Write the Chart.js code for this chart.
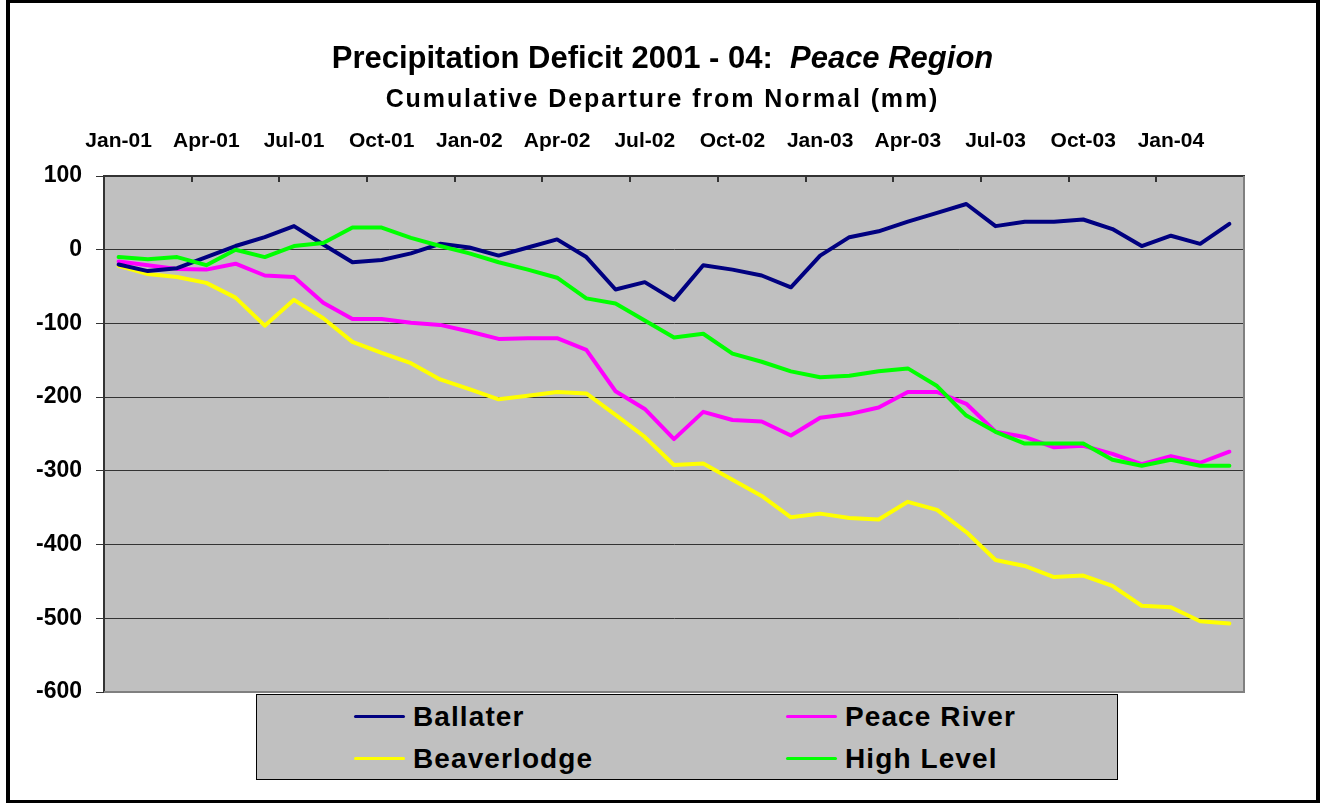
<!DOCTYPE html>
<html>
<head>
<meta charset="utf-8">
<title>Precipitation Deficit 2001 - 04: Peace Region</title>
<script src="https://cdn.jsdelivr.net/npm/chart.js@4.4.1/dist/chart.umd.min.js"></script>
<style>
  body { margin: 0; background: #fff; font-family: "Liberation Sans", Arial, sans-serif; }
  #wrap { position: relative; width: 1325px; height: 803px; overflow: hidden; }
  #frame { position: absolute; left: 6px; top: -1px; width: 1314px; height: 805px; border: 4px solid #000; box-sizing: border-box; pointer-events: none; }
  canvas { position: absolute; left: 0; top: 0; }
  .title { position: absolute; left: 0; width: 1325px; text-align: center; font-weight: bold; line-height: 1; color: #000; white-space: nowrap; }
  #t1 { top: 42px; font-size: 31px; }
  #t2 { top: 86px; font-size: 25px; letter-spacing: 1.9px; }
  #legend { position: absolute; left: 256px; top: 694px; width: 862px; height: 86px; box-sizing: border-box; border: 1px solid #000; background: #c0c0c0; }
  #legend .item { position: absolute; }
  #legend .swatch { position: absolute; left: 0; top: 20px; width: 51px; height: 3px; border-radius: 2px; }
  #legend .txt { position: absolute; left: 59px; top: 8px; font-size: 28px; font-weight: bold; line-height: 1; letter-spacing: 1.1px; white-space: nowrap; color: #000; }
</style>
</head>
<body>
<div id="wrap">
  <canvas id="chart" width="1325" height="803"></canvas>
  <div class="title" id="t1">Precipitation Deficit 2001 - 04:&nbsp; <i>Peace Region</i></div>
  <div class="title" id="t2">Cumulative Departure from Normal (mm)</div>
  <div id="legend"></div>
  <div id="frame"></div>
</div>
<script>
const labels = [
  "Jan-01", "Feb-01", "Mar-01", "Apr-01", "May-01", "Jun-01", "Jul-01", "Aug-01", "Sep-01", "Oct-01", "Nov-01", "Dec-01",
  "Jan-02", "Feb-02", "Mar-02", "Apr-02", "May-02", "Jun-02", "Jul-02", "Aug-02", "Sep-02", "Oct-02", "Nov-02", "Dec-02",
  "Jan-03", "Feb-03", "Mar-03", "Apr-03", "May-03", "Jun-03", "Jul-03", "Aug-03", "Sep-03", "Oct-03", "Nov-03", "Dec-03",
  "Jan-04", "Feb-04", "Mar-04"
];

const ballater = [
  -20, -29, -25, -10, 5, 17, 32, 7, -17, -14, -5, 8,
  3, -8, 3, 14, -10, -54, -44, -68, -21, -27, -35, -51,
  -8, 17, 25, 38, 50, 62, 32, 38, 38, 41, 28, 5,
  19, 8, 35
];
const peaceRiver = [
  -16, -21, -26, -27, -19, -35, -37, -72, -94, -94, -99, -102,
  -111, -121, -120, -120, -136, -192, -216, -257, -220, -231, -233, -252,
  -228, -223, -214, -193, -193, -209, -247, -254, -268, -266, -277, -291,
  -280, -289, -274
];
const beaverlodge = [
  -22, -33, -37, -45, -65, -103, -68, -93, -125, -140, -154, -176,
  -189, -203, -198, -193, -195, -224, -254, -292, -290, -312, -334, -363,
  -358, -364, -366, -342, -353, -383, -421, -429, -444, -442, -456, -483,
  -485, -504, -507
];
const highLevel = [
  -10, -13, -10, -21, 0, -10, 5, 9, 30, 30, 16, 5,
  -5, -17, -27, -38, -66, -73, -96, -119, -114, -141, -152, -165,
  -173, -171, -165, -161, -185, -225, -247, -263, -263, -263, -285, -293,
  -285, -293, -293
];

const yMin = -600;
const yMax = 100;
const yStep = 100;

const FONT = "'Liberation Sans', Arial, sans-serif";

// grey plot area, light right/bottom edge, inside tick marks on the top axis
const plotFrame = {
  id: "plotFrame",
  beforeDraw(chart) {
    const { ctx, chartArea: a } = chart;
    ctx.save();
    ctx.fillStyle = "#c0c0c0";
    ctx.fillRect(a.left, a.top, a.right - a.left, a.bottom - a.top);
    ctx.restore();
  },
  afterDraw(chart) {
    const { ctx, chartArea: a } = chart;
    const x = chart.scales.x;
    ctx.save();
    ctx.strokeStyle = "#808080";
    ctx.lineWidth = 2;
    ctx.beginPath();
    ctx.moveTo(a.left, a.bottom);
    ctx.lineTo(a.right, a.bottom);
    ctx.lineTo(a.right, a.top);
    ctx.stroke();

    const step = x.getPixelForValue(1) - x.getPixelForValue(0);
    ctx.strokeStyle = "#333";
    ctx.lineWidth = 2;
    for (let i = 3; i < labels.length; i += 3) {
      const px = Math.round(x.getPixelForValue(i) - step / 2);
      ctx.beginPath();
      ctx.moveTo(px, a.top);
      ctx.lineTo(px, a.top + 6);
      ctx.stroke();
    }
    ctx.restore();
  }
};

function series(label, data, color, order) {
  return {
    label: label,
    data: data,
    borderColor: color,
    backgroundColor: color,
    borderWidth: 4,
    pointRadius: 0,
    tension: 0,
    fill: false,
    borderJoinStyle: "round",
    borderCapStyle: "round",
    order: order
  };
}

const ctx = document.getElementById("chart").getContext("2d");
const chart = new Chart(ctx, {
  type: "line",
  data: {
    labels: labels,
    datasets: [
      series("Ballater", ballater, "#000080", 1),
      series("Peace River", peaceRiver, "#ff00ff", 2),
      series("Beaverlodge", beaverlodge, "#ffff00", 3),
      series("High Level", highLevel, "#00ff00", 0)
    ]
  },
  options: {
    responsive: false,
    animation: false,
    layout: { padding: { top: 100, left: 20, right: 81, bottom: 111 } },
    plugins: {
      legend: { display: false },
      title: { display: false },
      tooltip: { enabled: false }
    },
    scales: {
      x: {
        type: "category",
        position: "top",
        offset: true,
        grid: { offset: true, drawOnChartArea: false, drawTicks: false },
        border: { display: true, color: "#333", width: 2 },
        ticks: {
          autoSkip: false,
          maxRotation: 0,
          padding: 22,
          color: "#000",
          font: { family: FONT, size: 21, weight: "bold" },
          callback: (v, i) => (i % 3 === 0 ? labels[i] : "")
        },
        afterFit: (s) => { s.height = 76; }
      },
      y: {
        min: yMin,
        max: yMax,
        ticks: {
          stepSize: yStep,
          padding: 14,
          color: "#000",
          font: { family: FONT, size: 23, weight: "bold" },
          callback: (v) => String(v)
        },
        grid: { color: "#333", lineWidth: 1, tickLength: 8 },
        border: { color: "#333", width: 2 },
        afterFit: (s) => { s.width = 84; }
      }
    }
  },
  plugins: [plotFrame]
});

// legend box, two items per row like the original
const legendBox = document.getElementById("legend");
chart.data.datasets.forEach((ds, i) => {
  const item = document.createElement("div");
  item.className = "item";
  item.style.left = (i % 2 === 0 ? 97 : 529) + "px";
  item.style.top = (Math.floor(i / 2) * 42) + "px";
  const sw = document.createElement("span");
  sw.className = "swatch";
  sw.style.background = ds.borderColor;
  const txt = document.createElement("span");
  txt.className = "txt";
  txt.textContent = ds.label;
  item.appendChild(sw);
  item.appendChild(txt);
  legendBox.appendChild(item);
});
</script>
</body>
</html>
